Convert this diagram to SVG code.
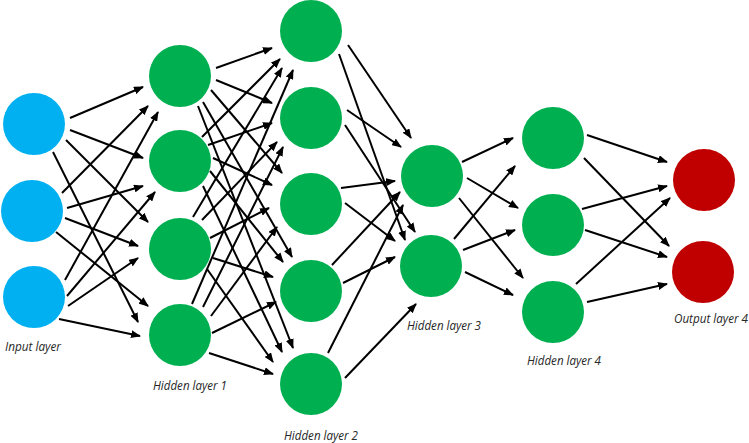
<svg xmlns="http://www.w3.org/2000/svg" width="749" height="443" viewBox="0 0 749 443">
<style>
.in{fill:#00B0F0}
.hid{fill:#00B050}
.out{fill:#C00000}
.lbl{font-family:"Open Sans","Liberation Sans",Arial,sans-serif;font-style:italic;font-size:12px;fill:#262626}
#edges line{stroke:#000;stroke-width:2;marker-end:url(#ah)}
</style>
<defs>
<marker id="ah" markerUnits="userSpaceOnUse" markerWidth="10" markerHeight="8" refX="9" refY="4" orient="auto">
<path d="M0,0 L10,4 L0,8 z" fill="#000"/>
</marker>
</defs>
<rect width="749" height="443" fill="#fff"/>
<g id="edges">
<line x1="70" y1="118" x2="143" y2="87"/>
<line x1="70" y1="130" x2="143" y2="158"/>
<line x1="66" y1="140" x2="148" y2="222"/>
<line x1="53" y1="152" x2="138" y2="322"/>
<line x1="62" y1="193" x2="148" y2="106"/>
<line x1="67" y1="208" x2="143" y2="186"/>
<line x1="65" y1="218" x2="138" y2="246"/>
<line x1="56" y1="232" x2="148" y2="306"/>
<line x1="65" y1="280" x2="158" y2="112"/>
<line x1="67" y1="296" x2="155" y2="192"/>
<line x1="68" y1="306" x2="138" y2="258"/>
<line x1="59" y1="319" x2="140" y2="336"/>
<line x1="216" y1="68" x2="272" y2="48"/>
<line x1="216" y1="80" x2="272" y2="103"/>
<line x1="211" y1="90" x2="282" y2="173"/>
<line x1="203" y1="102" x2="292" y2="257"/>
<line x1="198" y1="106" x2="293" y2="348"/>
<line x1="202" y1="137" x2="280" y2="59"/>
<line x1="208" y1="145" x2="272" y2="123"/>
<line x1="213" y1="158" x2="272" y2="185"/>
<line x1="210" y1="171" x2="283" y2="262"/>
<line x1="203" y1="186" x2="282" y2="352"/>
<line x1="193" y1="217" x2="282" y2="68"/>
<line x1="202" y1="220" x2="277" y2="142"/>
<line x1="210" y1="238" x2="269" y2="208"/>
<line x1="213" y1="258" x2="273" y2="277"/>
<line x1="207" y1="269" x2="273" y2="362"/>
<line x1="192" y1="304" x2="293" y2="70"/>
<line x1="203" y1="307" x2="283" y2="147"/>
<line x1="211" y1="316" x2="277" y2="227"/>
<line x1="212" y1="333" x2="276" y2="302"/>
<line x1="209" y1="353" x2="273" y2="374"/>
<line x1="348" y1="45" x2="411" y2="138"/>
<line x1="339" y1="54" x2="405" y2="240"/>
<line x1="347" y1="110" x2="401" y2="147"/>
<line x1="345" y1="125" x2="415" y2="232"/>
<line x1="341" y1="188" x2="395" y2="181"/>
<line x1="345" y1="203" x2="395" y2="241"/>
<line x1="332" y1="265" x2="400" y2="192"/>
<line x1="343" y1="283" x2="395" y2="257"/>
<line x1="328" y1="353" x2="403" y2="205"/>
<line x1="345" y1="378" x2="416" y2="304"/>
<line x1="462" y1="162" x2="513" y2="138"/>
<line x1="467" y1="178" x2="518" y2="208"/>
<line x1="459" y1="198" x2="523" y2="278"/>
<line x1="454" y1="239" x2="515" y2="166"/>
<line x1="463" y1="250" x2="515" y2="230"/>
<line x1="465" y1="272" x2="513" y2="295"/>
<line x1="587" y1="135" x2="667" y2="162"/>
<line x1="584" y1="158" x2="669" y2="246"/>
<line x1="582" y1="209" x2="667" y2="186"/>
<line x1="585" y1="230" x2="667" y2="257"/>
<line x1="576" y1="284" x2="670" y2="198"/>
<line x1="587" y1="302" x2="667" y2="284"/>
</g>
<g id="input1"><circle class="in" cx="34" cy="124" r="31"/></g>
<g id="input2"><circle class="in" cx="32" cy="211" r="31"/></g>
<g id="input3"><circle class="in" cx="34" cy="297" r="31"/></g>
<g id="h1n1"><circle class="hid" cx="180" cy="76" r="31"/></g>
<g id="h1n2"><circle class="hid" cx="180" cy="161" r="31"/></g>
<g id="h1n3"><circle class="hid" cx="180" cy="249" r="31"/></g>
<g id="h1n4"><circle class="hid" cx="180" cy="335" r="31"/></g>
<g id="h2n1"><circle class="hid" cx="311" cy="31" r="31"/></g>
<g id="h2n2"><circle class="hid" cx="311" cy="118" r="31"/></g>
<g id="h2n3"><circle class="hid" cx="311" cy="204" r="31"/></g>
<g id="h2n4"><circle class="hid" cx="311" cy="291" r="31"/></g>
<g id="h2n5"><circle class="hid" cx="311" cy="384" r="31"/></g>
<g id="h3n1"><circle class="hid" cx="432" cy="176" r="31"/></g>
<g id="h3n2"><circle class="hid" cx="431" cy="266" r="31"/></g>
<g id="h4n1"><circle class="hid" cx="553" cy="138" r="31"/></g>
<g id="h4n2"><circle class="hid" cx="553" cy="225" r="31"/></g>
<g id="h4n3"><circle class="hid" cx="553" cy="312" r="31"/></g>
<g id="out1"><circle class="out" cx="704" cy="180" r="31"/></g>
<g id="out2"><circle class="out" cx="703" cy="272" r="31"/></g>
<g id="labels">
<text class="lbl" x="5" y="351" textLength="56" lengthAdjust="spacingAndGlyphs">Input layer</text>
<text class="lbl" x="153" y="390" textLength="74" lengthAdjust="spacingAndGlyphs">Hidden layer 1</text>
<text class="lbl" x="284" y="440" textLength="74" lengthAdjust="spacingAndGlyphs">Hidden layer 2</text>
<text class="lbl" x="407" y="330" textLength="74" lengthAdjust="spacingAndGlyphs">Hidden layer 3</text>
<text class="lbl" x="527" y="365" textLength="74" lengthAdjust="spacingAndGlyphs">Hidden layer 4</text>
<text class="lbl" x="674" y="323" textLength="74" lengthAdjust="spacingAndGlyphs">Output layer 4</text>
</g>
</svg>
